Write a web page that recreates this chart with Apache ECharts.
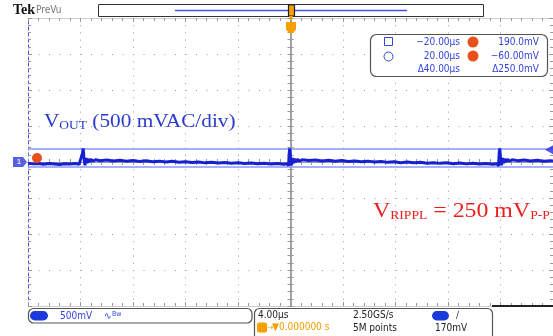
<!DOCTYPE html>
<html><head><meta charset="utf-8">
<script src="https://cdn.jsdelivr.net/npm/echarts/dist/echarts.min.js"></script>
<style>html,body{margin:0;padding:0;background:#fff}#c{width:553px;height:336px}</style>
</head><body><div id="c"></div>
<script>
// ---- data (read from the scope capture) ----
const timeRangeUs = [-20, 20];      // 4 us/div, 10 divisions
const timeStepUs = 4;
const voltRangeMv = [-2000, 2000];  // 500 mV/div, 8 divisions
const voltStepMv = 500;
const timeUs = [
  -20, -19.6, -19.2, -18.8, -18.4, -18, -17.6, -17.2, -16.8, -16.4, -16.1,
  -15.95, -15.85, -15.8, -15.74, -15.66, -15.58, -15.5, -15.42, -15.32, -15.2, -15.05, -14.85,
  -14.5, -14, -13.5, -13, -12.5, -12, -11.5, -11, -10.5, -10, -9.5, -9, -8.5, -8, -7.5, -7,
  -6.5, -6, -5.5, -5, -4.5, -4, -3.5, -3, -2.5, -2, -1.5, -1, -0.5, -0.22,
  -0.15, -0.1, -0.06, 0.0, 0.08, 0.16, 0.24, 0.32, 0.42, 0.54, 0.69, 0.89,
  1.4, 1.9, 2.4, 2.9, 3.4, 3.9, 4.4, 4.9, 5.4, 5.9, 6.4, 6.9, 7.4, 7.9, 8.4, 8.9, 9.4, 9.9,
  10.4, 10.9, 11.4, 11.9, 12.4, 12.9, 13.4, 13.9, 14.4, 14.9, 15.4, 15.75,
  15.85, 15.9, 15.94, 16.0, 16.08, 16.16, 16.24, 16.32, 16.42, 16.54, 16.69, 16.89,
  17.3, 17.8, 18.3, 18.8, 19.3, 19.8, 20
];
const voutMv = [
  -18, -26, -20, -30, -22, -27, -35, -24, -28, -22, -30,
  -55, 120, 190, 70, -45, 55, -15, 45, 0, 38, 10, 32,
  18, 28, 14, 25, 12, 20, 8, 16, 4, 12, 0, 9, -4, 4, -8, 0,
  -12, -4, -15, -8, -18, -12, -22, -14, -25, -18, -28, -20, -30, -24,
  -55, 120, 190, 70, -45, 55, -15, 45, 0, 38, 10, 32,
  20, 27, 15, 24, 10, 21, 7, 15, 3, 12, -1, 8, -5, 3, -9, -1, -12, -5,
  -16, -9, -19, -11, -23, -15, -26, -17, -29, -21, -31, -25,
  -55, 120, 190, 70, -45, 55, -15, 45, 0, 38, 10, 32,
  19, 27, 14, 23, 11, 19, 12
];
const cursorLevelsMv = [190, -60];
const triggerLevelMv = 170;
const groundLevelMv = 0;

// ---- chart ----
const chart = echarts.init(document.getElementById('c'), null, {renderer: 'canvas'});
const BLUE = '#3344dd', ORANGE = '#f5a000', RED_OR = '#e8501c';
const FONT = '"DejaVu Sans Condensed","DejaVu Sans",sans-serif';
const SERIF = '"Liberation Serif","Times New Roman",serif';

function xAx(pos, onZero, split) {
  return {
    type: 'value', min: timeRangeUs[0], max: timeRangeUs[1], interval: timeStepUs, position: pos,
    axisLine: {show: true, onZero: onZero, onZeroAxisIndex: 0, lineStyle: {color: onZero ? '#9a9a9a' : '#cfcfcf', width: 1}},
    axisTick: {show: true, inside: true, length: onZero ? 3 : 4, lineStyle: {color: '#999'}},
    minorTick: {show: true, splitNumber: 5, length: 3, lineStyle: {color: '#999'}},
    axisLabel: {show: false},
    splitLine: {show: split, lineStyle: {color: '#9a9a9a', width: 1, type: [1, 6.2]}}
  };
}
function yAx(pos, onZero, split, lineColor, lineType) {
  return {
    type: 'value', min: voltRangeMv[0], max: voltRangeMv[1], interval: voltStepMv, position: pos,
    axisLine: {show: true, onZero: onZero, onZeroAxisIndex: 0, lineStyle: {color: lineColor, width: onZero ? 1.5 : 1, type: lineType}},
    axisTick: {show: true, inside: true, length: onZero ? 3 : 4, lineStyle: {color: '#999'}},
    minorTick: {show: true, splitNumber: 5, length: 3, lineStyle: {color: '#999'}},
    axisLabel: {show: false},
    splitLine: {show: split, lineStyle: {color: '#9a9a9a', width: 1, type: [1, 9.5]}}
  };
}

const traceData = timeUs.map((t, i) => [t, voutMv[i]]);

function txt(x, y, text, opt) {
  return Object.assign({type: 'text', z: 100, style: Object.assign({x: x, y: y, text: text, font: '10px ' + FONT, fill: '#222', align: 'left', verticalAlign: 'middle'}, opt || {})});
}

const graphic = [
  // header
  txt(13, 10, 'Tek', {font: 'bold 14px ' + SERIF, fill: '#111'}),
  txt(36, 10, 'PreVu', {font: '10px ' + FONT, fill: '#777'}),
  {type: 'rect', z: 100, shape: {x: 98.5, y: 4.5, width: 385, height: 12}, style: {fill: '#fff', stroke: '#333', lineWidth: 1}},
  {type: 'line', z: 101, shape: {x1: 175, y1: 10.5, x2: 407, y2: 10.5}, style: {stroke: '#4455ee', lineWidth: 1.5}},
  {type: 'rect', z: 102, shape: {x: 288.5, y: 5, width: 6, height: 11}, style: {fill: ORANGE, stroke: '#222', lineWidth: 1.2}},
  {type: 'polygon', z: 102, shape: {points: [[289, 16], [293, 16], [291, 21]]}, style: {fill: ORANGE}},
  {type: 'polygon', z: 102, shape: {points: [[286, 22], [296, 22], [296, 30], [291, 34], [286, 30]]}, style: {fill: ORANGE}},
  txt(291, 27, 'T', {font: 'bold 9px ' + FONT, fill: '#fff', align: 'center'}),

  // cursor readout
  {type: 'rect', z: 100, shape: {x: 370.5, y: 34.5, width: 177, height: 42, r: 6}, style: {fill: '#fff', stroke: '#555', lineWidth: 1.2}},
  {type: 'rect', z: 101, shape: {x: 384.5, y: 37.5, width: 8, height: 8}, style: {fill: 'none', stroke: BLUE, lineWidth: 1}},
  {type: 'circle', z: 101, shape: {cx: 388.5, cy: 56.5, r: 4.5}, style: {fill: 'none', stroke: BLUE, lineWidth: 1}},
  txt(460, 42, '\u221220.00\u00b5s', {fill: BLUE, align: 'right'}),
  txt(460, 56, '20.00\u00b5s', {fill: BLUE, align: 'right'}),
  txt(460, 69, '\u039440.00\u00b5s', {fill: BLUE, align: 'right'}),
  {type: 'circle', z: 101, shape: {cx: 473, cy: 42, r: 5.5}, style: {fill: RED_OR}},
  txt(473, 41.5, 'a', {font: 'bold 9px ' + FONT, fill: '#fff', align: 'center'}),
  {type: 'circle', z: 101, shape: {cx: 473, cy: 56, r: 5.5}, style: {fill: RED_OR}},
  txt(473, 55.5, 'b', {font: 'bold 9px ' + FONT, fill: '#fff', align: 'center'}),
  txt(539, 42, '190.0mV', {fill: BLUE, align: 'right'}),
  txt(539, 56, '\u221260.00mV', {fill: BLUE, align: 'right'}),
  txt(539, 69, '\u0394250.0mV', {fill: BLUE, align: 'right'}),

  // left cursor b marker
  {type: 'circle', z: 101, shape: {cx: 37, cy: 158, r: 5}, style: {fill: RED_OR}},
  txt(37, 157.5, 'b', {font: 'bold 9px ' + FONT, fill: '#fff', align: 'center'}),

  // annotations
  {type: 'text', z: 100, x: 44, y: 121, scaleX: 1.12, style: {x: 0, y: 0, text: '{m|V}{s|OUT}{m| (500 mVAC/div)}', align: 'left', verticalAlign: 'middle',
    rich: {m: {font: '19px ' + SERIF, fill: '#2a3bd0', lineHeight: 22, verticalAlign: 'bottom'}, s: {font: '12px ' + SERIF, fill: '#2a3bd0', lineHeight: 12, verticalAlign: 'bottom'}}}},
  {type: 'text', z: 100, x: 373, y: 210, scaleX: 1.135, style: {x: 0, y: 0, text: '{m|V}{s|RIPPL}{m| = 250 mV}{s|P-P}', align: 'left', verticalAlign: 'middle',
    rich: {m: {font: '21px ' + SERIF, fill: '#f01c1c', lineHeight: 24, verticalAlign: 'bottom'}, s: {font: '12px ' + SERIF, fill: '#f01c1c', lineHeight: 12, verticalAlign: 'bottom'}}}},

  // bottom status boxes
  {type: 'line', z: 100, shape: {x1: 492, y1: 306, x2: 553, y2: 306}, style: {stroke: '#222', lineWidth: 2}},
  {type: 'rect', z: 100, shape: {x: 28.5, y: 308.5, width: 223.5, height: 14.5, r: 5}, style: {fill: '#fff', stroke: '#555', lineWidth: 1.2}},
  {type: 'rect', z: 101, shape: {x: 30, y: 311, width: 18, height: 9.5, r: 4.75}, style: {fill: '#1a3adc'}},
  txt(39, 315.8, '1', {font: 'bold 9px ' + FONT, fill: '#fff', align: 'center'}),
  txt(60, 316, '500mV', {fill: BLUE}),
  txt(104, 316, '\u223f', {fill: BLUE, font: '10px ' + FONT}),
  txt(112, 314.5, 'Bw', {fill: BLUE, font: '7px ' + FONT}),
  {type: 'rect', z: 100, shape: {x: 254.5, y: 308.5, width: 238, height: 32, r: 5}, style: {fill: '#fff', stroke: '#555', lineWidth: 1.2}},
  txt(258, 315.5, '4.00\u00b5s'),
  {type: 'rect', z: 101, shape: {x: 257, y: 322.5, width: 10, height: 10, r: 2}, style: {fill: ORANGE}},
  txt(262, 327.8, 'T', {font: 'bold 8px ' + FONT, fill: '#fff', align: 'center'}),
  txt(267, 327.5, '\u2192', {fill: ORANGE, font: '8px ' + FONT}),
  txt(272, 327.5, '\u25bc0.000000 s', {fill: ORANGE}),
  txt(353, 315.5, '2.50GS/s'),
  txt(353, 328, '5M points'),
  {type: 'rect', z: 101, shape: {x: 432, y: 311, width: 17, height: 9.5, r: 4.75}, style: {fill: '#1a3adc'}},
  txt(440.5, 315.8, '1', {font: 'bold 9px ' + FONT, fill: '#fff', align: 'center'}),
  txt(456, 315.5, '\u2215', {fill: '#333'}),
  txt(435, 328, '170mV')
];

chart.setOption({
  animation: false,
  backgroundColor: '#fff',
  grid: {left: 28, top: 18, width: 525, height: 288},
  xAxis: [xAx('bottom', false, true), xAx('top', false, false), xAx('bottom', true, false), xAx('top', true, false)],
  yAxis: [yAx('left', false, true, '#4455ee', [3, 3]), yAx('right', false, false, '#cfcfcf', 'solid'),
          yAx('left', true, false, '#9a9a9a', 'solid'), yAx('right', true, false, '#9a9a9a', 'solid')],
  series: [
    {type: 'line', z: 2, data: [], silent: true,
     markLine: {silent: true, symbol: 'none', label: {show: false}, animation: false,
       lineStyle: {color: '#8a96ff', width: 1.5, type: 'solid'},
       data: cursorLevelsMv.map(v => ({yAxis: v}))}},
    {type: 'line', z: 5, data: traceData, showSymbol: false, silent: true, clip: true,
     lineStyle: {color: '#1620d2', width: 3}},
    {type: 'scatter', z: 6, clip: false, data: [[timeRangeUs[1], triggerLevelMv]],
     symbol: 'path://M0,5 L8,0 L8,10 Z', symbolSize: [8, 9], symbolOffset: [-4, 0],
     itemStyle: {color: '#2233dd'}},
    {type: 'scatter', z: 6, clip: false, data: [[timeRangeUs[0], groundLevelMv]],
     symbol: 'path://M0,0 L10,0 L14,5 L10,10 L0,10 Z', symbolSize: [14, 10], symbolOffset: [-8, 0],
     itemStyle: {color: '#2a3ad8'},
     label: {show: true, position: 'inside', formatter: '1', color: '#fff', fontSize: 8, fontWeight: 'bold', offset: [-1, 0]}}
  ],
  graphic: graphic
});
</script></body></html>
